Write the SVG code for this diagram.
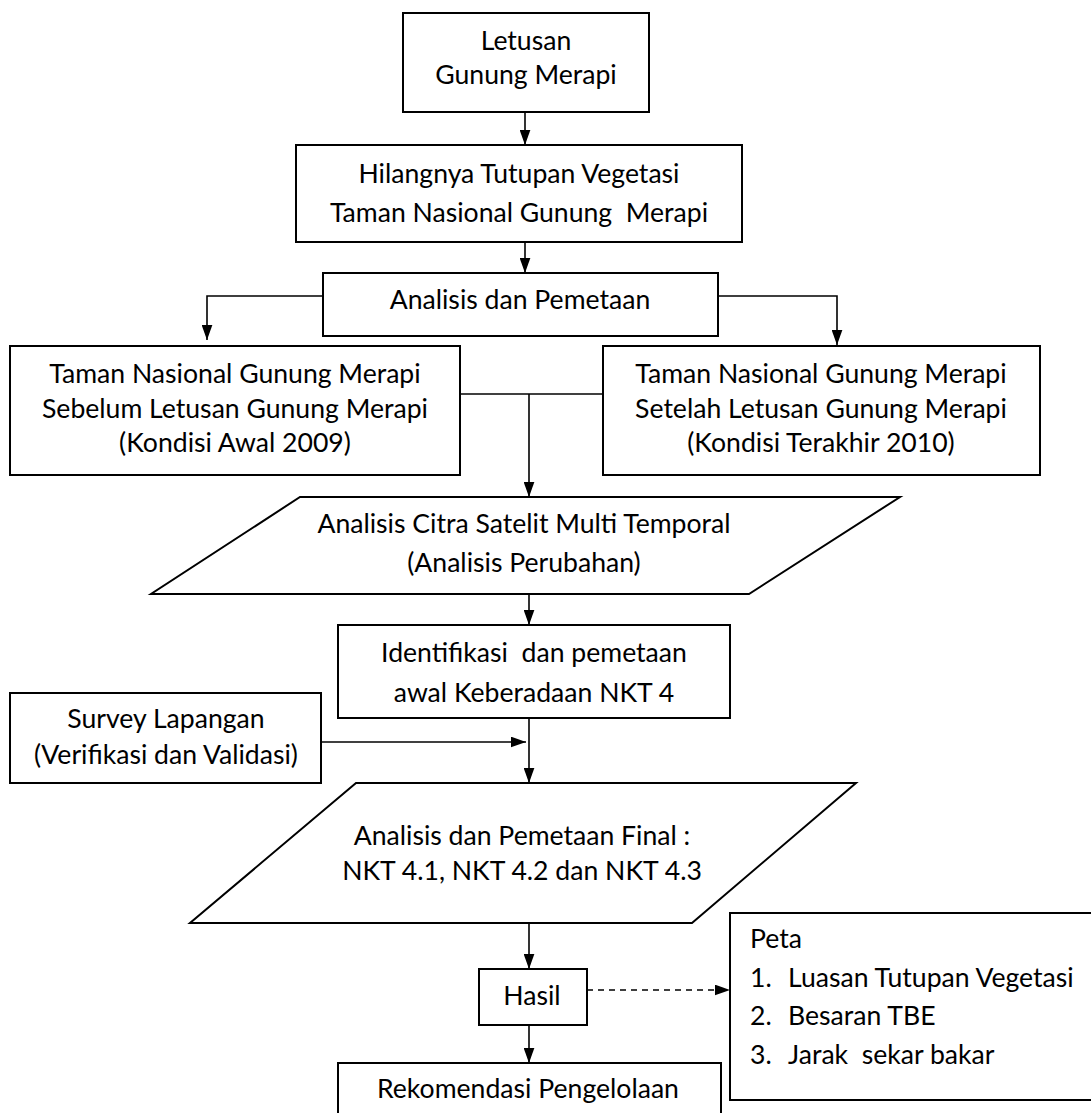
<svg xmlns="http://www.w3.org/2000/svg" width="1091" height="1113" viewBox="0 0 1091 1113">
<style>
.box{fill:#fff;stroke:#000;stroke-width:2}
.t{font-family:Lato,"Liberation Sans",sans-serif;font-size:26.6px;fill:#000;text-anchor:middle}
.tl{font-family:Lato,"Liberation Sans",sans-serif;font-size:26.6px;fill:#000}
.c{fill:none;stroke:#000;stroke-width:1.6}
.d{fill:none;stroke:#000;stroke-width:1.6;stroke-dasharray:6 5}
</style>
<defs>
<marker id="ah" viewBox="0 0 14 10" refX="14" refY="5" markerWidth="15" markerHeight="11" markerUnits="userSpaceOnUse" orient="auto">
<path d="M0,0 L14,5 L0,10 Z" fill="#000"/>
</marker>
</defs>
<rect width="1091" height="1113" fill="#fff"/>
<g id="connectors">
<path class="c" d="M525,112 V145" marker-end="url(#ah)"/>
<path class="c" d="M525,242 V273" marker-end="url(#ah)"/>
<path class="c" d="M323,296 H207 V340" marker-end="url(#ah)"/>
<path class="c" d="M718,296 H837 V345" marker-end="url(#ah)"/>
<path class="c" d="M460,394 H603"/>
<path class="c" d="M529,394 V497" marker-end="url(#ah)"/>
<path class="c" d="M529,594 V625" marker-end="url(#ah)"/>
<path class="c" d="M321,742 H526" marker-end="url(#ah)"/>
<path class="c" d="M529,718 V783" marker-end="url(#ah)"/>
<path class="c" d="M529,923 V969" marker-end="url(#ah)"/>
<path class="d" d="M587,990 H730" marker-end="url(#ah)"/>
<path class="c" d="M529,1025 V1063" marker-end="url(#ah)"/>
</g>
<g id="n1">
<rect class="box" x="403" y="13" width="246" height="99"/>
<text class="t" x="526" y="50">Letusan</text>
<text class="t" x="526" y="84">Gunung Merapi</text>
</g>
<g id="n2">
<rect class="box" x="296" y="145" width="446" height="97"/>
<text class="t" x="519" y="183">Hilangnya Tutupan Vegetasi</text>
<text class="t" x="519" y="222" xml:space="preserve">Taman Nasional Gunung  Merapi</text>
</g>
<g id="n3">
<rect class="box" x="323" y="273" width="395" height="63"/>
<text class="t" x="520" y="309">Analisis dan Pemetaan</text>
</g>
<g id="n4">
<rect class="box" x="10" y="346" width="450" height="129"/>
<text class="t" x="235" y="383">Taman Nasional Gunung Merapi</text>
<text class="t" x="235" y="418">Sebelum Letusan Gunung Merapi</text>
<text class="t" x="235" y="452">(Kondisi Awal 2009)</text>
</g>
<g id="n5">
<rect class="box" x="603" y="346" width="437" height="129"/>
<text class="t" x="821" y="383">Taman Nasional Gunung Merapi</text>
<text class="t" x="821" y="418">Setelah Letusan Gunung Merapi</text>
<text class="t" x="821" y="452">(Kondisi Terakhir 2010)</text>
</g>
<g id="n6">
<polygon class="box" points="300,497 900,497 749,594 151,594"/>
<text class="t" x="524" y="533">Analisis Citra Satelit Multi Temporal</text>
<text class="t" x="524" y="572">(Analisis Perubahan)</text>
</g>
<g id="n7">
<rect class="box" x="338" y="625" width="392" height="93"/>
<text class="t" x="534" y="662" xml:space="preserve">Identifikasi  dan pemetaan</text>
<text class="t" x="534" y="702">awal Keberadaan NKT 4</text>
</g>
<g id="n8">
<rect class="box" x="10" y="693" width="311" height="90"/>
<text class="t" x="166" y="728">Survey Lapangan</text>
<text class="t" x="166" y="764">(Verifikasi dan Validasi)</text>
</g>
<g id="n9">
<polygon class="box" points="356,783 856,783 692,923 190,923"/>
<text class="t" x="522" y="845">Analisis dan Pemetaan Final :</text>
<text class="t" x="522" y="880">NKT 4.1, NKT 4.2 dan NKT 4.3</text>
</g>
<g id="n10">
<rect class="box" x="479" y="969" width="108" height="56"/>
<text class="t" x="532" y="1005">Hasil</text>
</g>
<g id="n11">
<rect class="box" x="730" y="913" width="380" height="187"/>
<text class="tl" x="750" y="948">Peta</text>
<text class="tl" x="750" y="987">1.</text>
<text class="tl" x="788" y="987">Luasan Tutupan Vegetasi</text>
<text class="tl" x="750" y="1025">2.</text>
<text class="tl" x="788" y="1025">Besaran TBE</text>
<text class="tl" x="750" y="1064">3.</text>
<text class="tl" x="788" y="1064" xml:space="preserve">Jarak  sekar bakar</text>
</g>
<g id="n12">
<rect class="box" x="338" y="1063" width="383" height="70"/>
<text class="t" x="528" y="1098">Rekomendasi Pengelolaan</text>
</g>
</svg>
